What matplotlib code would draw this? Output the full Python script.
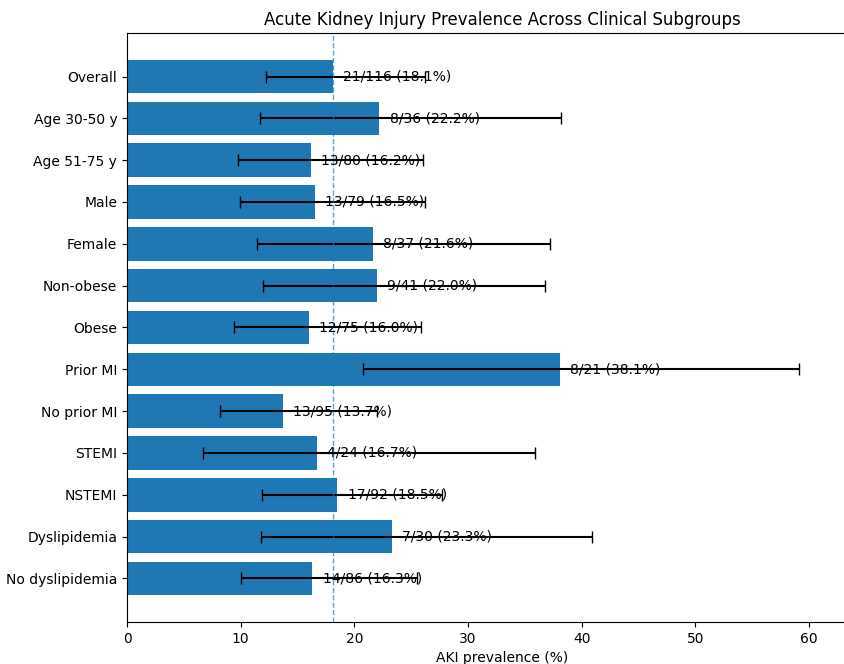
import numpy as np
import matplotlib.pyplot as plt

groups = ["Overall", "Age 30-50 y", "Age 51-75 y", "Male", "Female", "Non-obese",
          "Obese", "Prior MI", "No prior MI", "STEMI", "NSTEMI", "Dyslipidemia",
          "No dyslipidemia"]
events = [21, 8, 13, 13, 8, 9, 12, 8, 13, 4, 17, 7, 14]
totals = [116, 36, 80, 79, 37, 41, 75, 21, 95, 24, 92, 30, 86]
prev = [18.1, 22.2, 16.2, 16.5, 21.6, 22.0, 16.0, 38.1, 13.7, 16.7, 18.5, 23.3, 16.3]
ci_low = [12.2, 11.7, 9.8, 9.9, 11.4, 12.0, 9.4, 20.8, 8.2, 6.7, 11.9, 11.8, 10.0]
ci_high = [26.2, 38.2, 26.0, 26.2, 37.2, 36.8, 25.9, 59.1, 22.0, 35.9, 27.7, 40.9, 25.5]
overall_prev = 18.1

prev = np.array(prev)
err = [prev - np.array(ci_low), np.array(ci_high) - prev]
y = np.arange(len(groups))

fig = plt.figure(figsize=(8.45, 6.64), dpi=100)
# axes runs past the right edge, as in the cropped original
ax = fig.add_axes([0.1503, 0.0633, 0.888, 0.887])
ax.barh(y, prev, color="#1f77b4", xerr=err, capsize=4,
        error_kw=dict(ecolor="black", elinewidth=1.5, capthick=1))
ax.axvline(overall_prev, color="#1f77b4", linestyle="--", linewidth=1, alpha=0.7)
for i in range(len(groups)):
    ax.text(prev[i] + 0.9, y[i], f"{events[i]}/{totals[i]} ({prev[i]:.1f}%)",
            va="center", fontsize=10)
ax.set_yticks(y)
ax.set_yticklabels(groups)
ax.invert_yaxis()
ax.set_xlim(0, 66)
ax.set_xticks([0, 10, 20, 30, 40, 50, 60])
ax.set_xlabel("AKI prevalence (%)")
ax.set_title("Acute Kidney Injury Prevalence Across Clinical Subgroups")
fig.savefig("out.png", dpi=100)
